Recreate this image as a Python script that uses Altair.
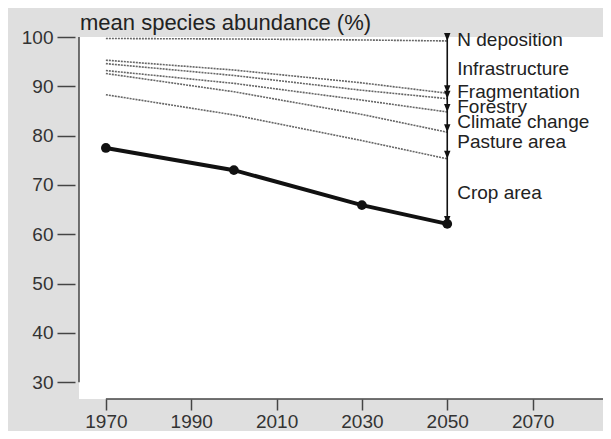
import altair as alt
import pandas as pd

# ---- data ----
years = [1970, 2000, 2030, 2050]
msa_total = [77.5, 73.0, 65.9, 62.1]

level_names = ["N deposition", "Infrastructure", "Fragmentation", "Forestry",
               "Climate change", "Pasture area"]
level_ndep = [99.7, 99.6, 99.4, 99.2]
level_infra = [95.3, 93.3, 90.7, 88.6]
level_frag = [94.6, 92.2, 89.2, 87.5]
level_forest = [93.2, 90.6, 87.2, 84.8]
level_climate = [92.6, 88.9, 84.3, 80.7]
level_pasture = [88.3, 84.2, 79.0, 75.3]

labels = ["N deposition", "Infrastructure", "Fragmentation", "Forestry",
          "Climate change", "Pasture area", "Crop area"]
label_y = [99.45, 93.6, 88.8, 85.8, 82.8, 78.7, 68.4]

x_ticks = [1970, 1990, 2010, 2030, 2050, 2070]
y_ticks = [30, 40, 50, 60, 70, 80, 90, 100]

# ---- tables ----
levels = [level_ndep, level_infra, level_frag, level_forest, level_climate, level_pasture]
dotted = pd.DataFrame([
    {"year": y, "value": v, "series": n}
    for n, vals in zip(level_names, levels)
    for y, v in zip(years, vals)
])
total = pd.DataFrame({"year": years, "value": msa_total})
ends = pd.DataFrame({"year": [2050] * 7,
                     "value": [vals[-1] for vals in levels] + [msa_total[-1]]})
arrow = pd.DataFrame({"year": [2050], "top": [100], "bottom": [msa_total[-1]]})
lab = pd.DataFrame({"year": [2050] * len(labels), "value": label_y, "label": labels})
xline = pd.DataFrame({"x1": [x_ticks[0]], "x2": [2086.5]})

FONT = "Liberation Sans"
xs = alt.Scale(domain=[1963.7, 2086.5], nice=False, zero=False)
ys = alt.Scale(domain=[26.6, 100], nice=False, zero=False)

X = alt.X("year:Q", scale=xs,
          axis=alt.Axis(values=x_ticks, format="d", title=None, domain=False,
                        grid=False, tickSize=11, tickColor="#444", tickWidth=1.5,
                        labelFontSize=19, labelColor="#333", labelPadding=2,
                        labelFont=FONT))
Y = alt.Y("value:Q", scale=ys,
          axis=alt.Axis(values=y_ticks, title=None, domain=False, grid=False,
                        offset=4, tickSize=18, tickColor="#444", tickWidth=1.5,
                        labelFontSize=19, labelColor="#333", labelPadding=4,
                        labelFont=FONT))

lines = alt.Chart(dotted).mark_line(color="#666", strokeWidth=1.6,
                                    strokeDash=[2, 1]).encode(
    x=X, y=Y, detail="series:N")

total_line = alt.Chart(total).mark_line(color="#111", strokeWidth=4).encode(
    x=alt.X("year:Q", scale=xs), y=alt.Y("value:Q", scale=ys))
total_pts = alt.Chart(total).mark_circle(color="#111", size=95, opacity=1).encode(
    x=alt.X("year:Q", scale=xs), y=alt.Y("value:Q", scale=ys))

arrow_line = alt.Chart(arrow).mark_rule(color="#111", strokeWidth=1.6).encode(
    x=alt.X("year:Q", scale=xs), y=alt.Y("top:Q", scale=ys), y2="bottom:Q")

heads = alt.Chart(ends).mark_point(
    shape="M-0.8,-2L0.8,-2L0,0Z", filled=True, color="#111", size=64,
    opacity=1).encode(x=alt.X("year:Q", scale=xs), y=alt.Y("value:Q", scale=ys))

texts = alt.Chart(lab).mark_text(align="left", baseline="middle", dx=10,
                                 fontSize=19, font=FONT, color="#222").encode(
    x=alt.X("year:Q", scale=xs), y=alt.Y("value:Q", scale=ys), text="label:N")

x_axis_line = alt.Chart(xline).mark_rule(color="#444", strokeWidth=1.5).encode(
    x=alt.X("x1:Q", scale=xs), x2="x2:Q", y=alt.value(362))

y_axis_line = alt.Chart(pd.DataFrame({"a": [100], "b": [30]})).mark_rule(
    color="#444", strokeWidth=1.5).encode(
    x=alt.value(0), y=alt.Y("a:Q", scale=ys), y2="b:Q")

title = alt.Chart(pd.DataFrame({"t": ["mean species abundance (%)"]})).mark_text(
    align="left", baseline="alphabetic", fontSize=22, font=FONT, color="#222"
).encode(x=alt.value(1), y=alt.value(-7), text="t:N")

chart = alt.layer(
    lines, total_line, total_pts, arrow_line, heads, texts,
    x_axis_line, y_axis_line, title
).properties(
    width=524, height=362,
    autosize=alt.AutoSizeParams(type="none"),
    padding={"left": 71, "top": 29, "right": 0, "bottom": 32},
    background="#dfdfdf",
).configure_view(stroke=None, fill="white")

chart.save("out.html", embed_options={"renderer": "svg", "actions": False})
